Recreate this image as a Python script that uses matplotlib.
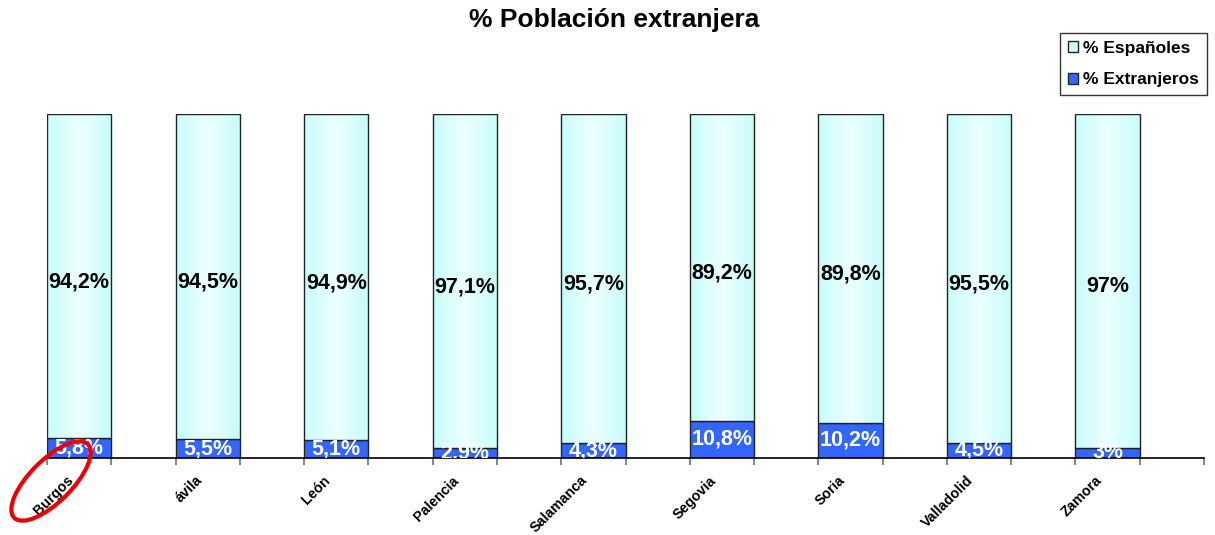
import matplotlib
matplotlib.use('Agg')
import matplotlib.pyplot as plt
import numpy as np
from matplotlib.patches import Ellipse
from matplotlib.colors import LinearSegmentedColormap
from matplotlib.transforms import IdentityTransform

provincias = ['Burgos', 'ávila', 'León', 'Palencia', 'Salamanca',
              'Segovia', 'Soria', 'Valladolid', 'Zamora']
extranjeros = [5.8, 5.5, 5.1, 2.9, 4.3, 10.8, 10.2, 4.5, 3.0]
espanoles = [94.2, 94.5, 94.9, 97.1, 95.7, 89.2, 89.8, 95.5, 97.0]
lab_extr = ['5,8%', '5,5%', '5,1%', '2,9%', '4,3%', '10,8%', '10,2%', '4,5%', '3%']
lab_esp = ['94,2%', '94,5%', '94,9%', '97,1%', '95,7%', '89,2%', '89,8%', '95,5%', '97%']

plt.rcParams['font.family'] = ['Liberation Sans', 'DejaVu Sans']

fig = plt.figure(figsize=(12.15, 5.35), dpi=100)
ax = fig.add_axes([47 / 1215, 77 / 535, 1157 / 1215, 344 / 535])

# every province sits in its own slot, with an empty slot in between
x = np.arange(len(provincias)) * 2
col_esp = '#ccffff'
col_ext = '#3366ff'

b1 = ax.bar(x, extranjeros, width=1, align='edge', color=col_ext,
            edgecolor='#222222', linewidth=1, label='% Extranjeros', zorder=2)
b2 = ax.bar(x, espanoles, width=1, align='edge', bottom=extranjeros, color=col_esp,
            edgecolor='#222222', linewidth=1, label='% Españoles', zorder=2)

# soft horizontal gradient on the light bars
grad = np.concatenate([np.linspace(0, 1, 32), np.linspace(1, 0, 32)]).reshape(1, -1)
cm = LinearSegmentedColormap.from_list('g', ['#c8fcfc', '#ecffff'])
for bar in b2:
    x0, y0 = bar.get_x(), bar.get_y()
    im = ax.imshow(grad, cmap=cm, aspect='auto', zorder=2.1,
                   extent=[x0, x0 + bar.get_width(), y0, y0 + bar.get_height()])
    im.set_clip_path(bar)
    bar.set_facecolor('none')
    bar.set_zorder(2.2)

for bar, t in zip(b1, lab_extr):
    ax.text(bar.get_x() + bar.get_width() / 2, bar.get_y() + bar.get_height() / 2, t,
            ha='center', va='center', color='white', fontsize=15.5, fontweight='bold',
            zorder=3, clip_on=True)
for bar, t in zip(b2, lab_esp):
    ax.annotate(t, (bar.get_x() + bar.get_width() / 2, bar.get_y() + bar.get_height() / 2),
                xytext=(0, -4), textcoords='offset points',
                ha='center', va='center', color='black', fontsize=15.5, fontweight='bold',
                zorder=3)

ax.set_xlim(0, 2 * len(provincias))
ax.set_ylim(0, 100)
for s in ['left', 'right', 'top']:
    ax.spines[s].set_visible(False)
ax.spines['bottom'].set_linewidth(1.2)
ax.set_yticks([])
ax.set_xticks(np.arange(0, 2 * len(provincias) + 1))
ax.set_xticklabels([])
ax.tick_params(axis='x', which='major', length=5, color='#888888', width=1.5)
ax.set_xticks(x + 0.3, minor=True)
ax.set_xticklabels(provincias, minor=True, rotation=45, ha='right',
                   rotation_mode='anchor', fontsize=10.2, fontweight='bold')
ax.tick_params(axis='x', which='minor', length=0, pad=11)

fig.suptitle('% Población extranjera', x=614 / 1215, y=0.985, fontsize=19, fontweight='bold')

h, l = ax.get_legend_handles_labels()
leg = fig.legend(h[::-1], l[::-1], loc='upper right', bbox_to_anchor=(1207 / 1215, 1 - 33 / 535),
                 prop={'weight': 'bold', 'size': 12.5}, frameon=True,
                 fancybox=False, edgecolor='black', handlelength=0.6, handleheight=0.6,
                 handletextpad=0.3, labelspacing=0.95, borderpad=0.45, borderaxespad=0)
leg.get_frame().set_linewidth(1)
leg.legend_handles[0].set_facecolor(col_esp)

# red hand-drawn ring around the first label (drawn in figure pixels)
ax.add_patch(Ellipse((51, 535 - 481), width=104, height=42, angle=45, fill=False,
                     edgecolor='#ee0000', linewidth=3, clip_on=False, zorder=5,
                     transform=IdentityTransform()))

fig.savefig('out.png', dpi=100)
